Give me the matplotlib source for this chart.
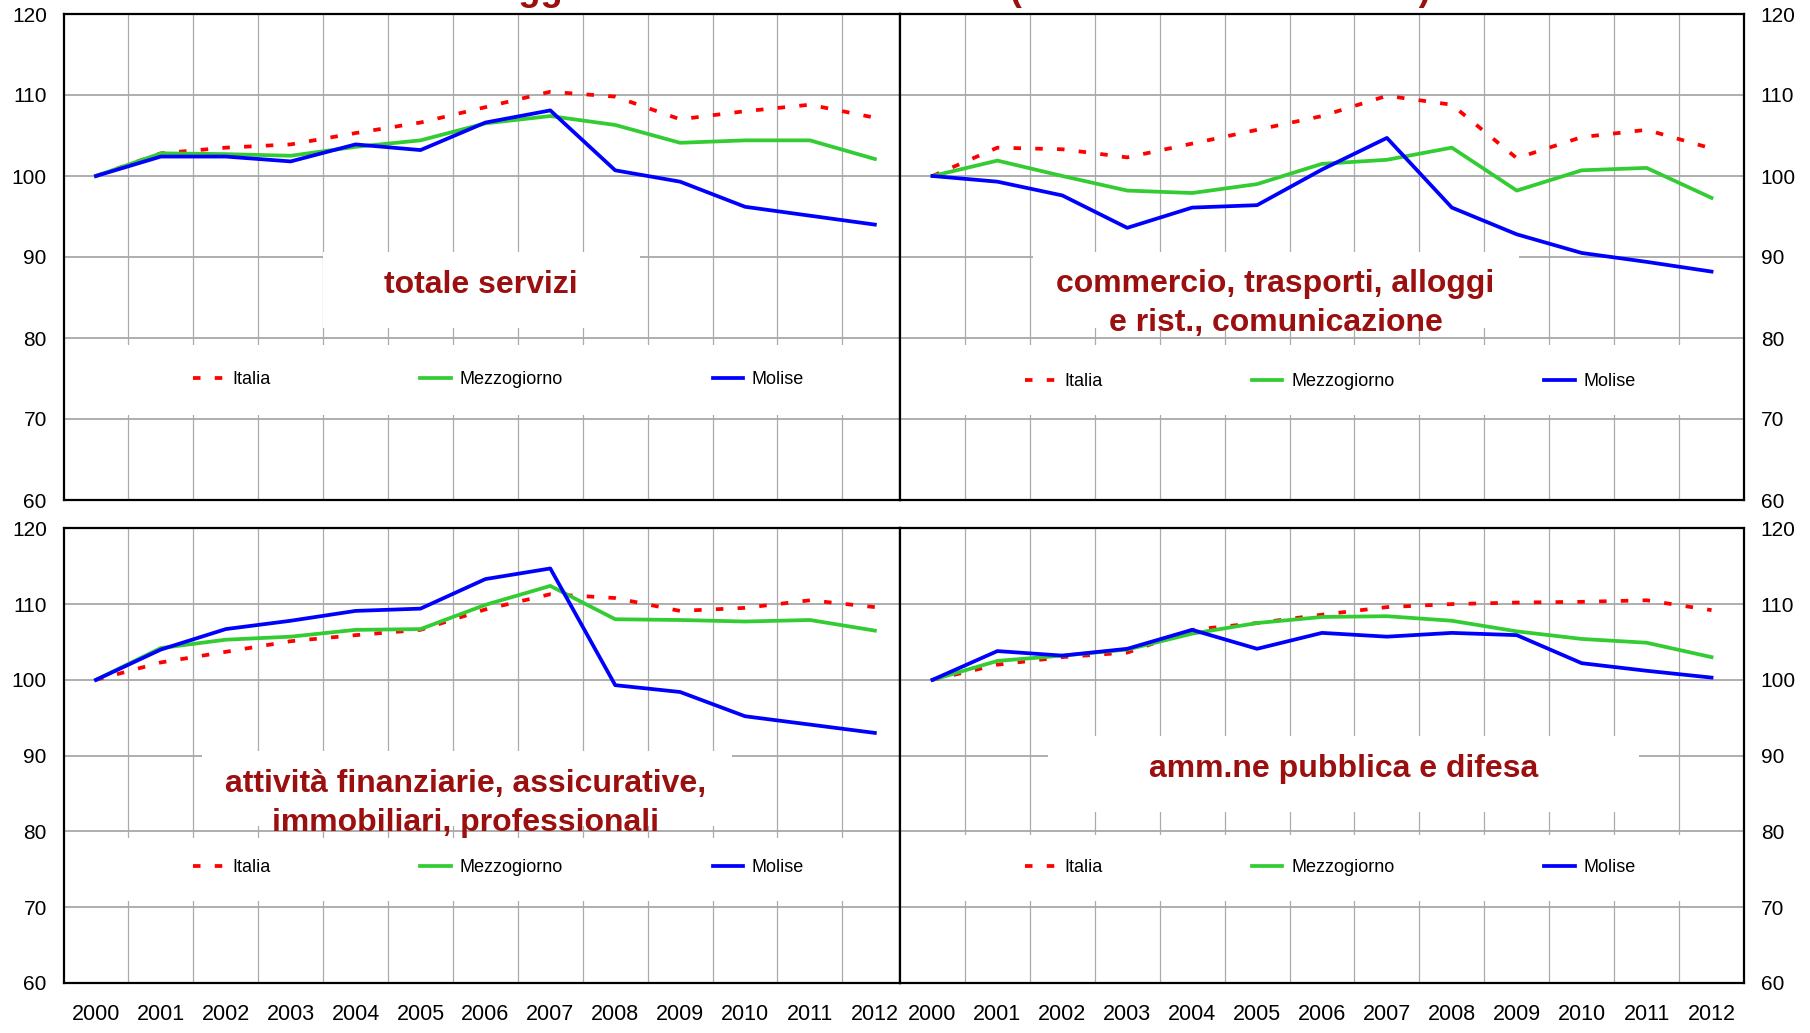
import matplotlib.pyplot as plt
from matplotlib.patches import Rectangle

plt.rcParams['font.family'] = ['Liberation Sans', 'DejaVu Sans']

years = [str(y) for y in range(2000, 2013)]
series_names = ['Italia', 'Mezzogiorno', 'Molise']

# totale servizi
tot_italia = [100, 102.8, 103.5, 103.9, 105.3, 106.6, 108.5, 110.4, 109.8, 107.0, 108.0, 108.8, 107.2]
tot_mezz = [100, 102.8, 102.7, 102.5, 103.6, 104.4, 106.5, 107.4, 106.3, 104.1, 104.4, 104.4, 102.1]
tot_molise = [100, 102.4, 102.4, 101.8, 103.9, 103.2, 106.6, 108.1, 100.7, 99.3, 96.2, 95.1, 94.0]

# commercio, trasporti, alloggi e rist., comunicazione
com_italia = [100, 103.5, 103.3, 102.3, 104.0, 105.7, 107.4, 109.9, 108.8, 102.2, 104.8, 105.7, 103.4]
com_mezz = [100, 101.9, 100.0, 98.2, 97.9, 99.0, 101.5, 102.0, 103.5, 98.2, 100.7, 101.0, 97.3]
com_molise = [100, 99.3, 97.6, 93.6, 96.1, 96.4, 100.8, 104.7, 96.1, 92.8, 90.5, 89.4, 88.2]

# attivita finanziarie, assicurative, immobiliari, professionali
fin_italia = [100, 102.3, 103.7, 105.1, 105.9, 106.6, 109.3, 111.3, 110.8, 109.1, 109.5, 110.5, 109.6]
fin_mezz = [100, 104.2, 105.3, 105.7, 106.6, 106.7, 109.9, 112.4, 108.0, 107.9, 107.7, 107.9, 106.5]
fin_molise = [100, 104.0, 106.7, 107.8, 109.1, 109.4, 113.3, 114.7, 99.3, 98.4, 95.2, 94.1, 93.0]

# amm.ne pubblica e difesa
pa_italia = [100, 102.0, 103.0, 103.6, 106.6, 107.5, 108.6, 109.6, 110.0, 110.2, 110.3, 110.5, 109.2]
pa_mezz = [100, 102.5, 103.2, 104.0, 106.1, 107.5, 108.3, 108.4, 107.8, 106.4, 105.4, 104.9, 103.0]
pa_molise = [100, 103.8, 103.2, 104.1, 106.6, 104.1, 106.2, 105.7, 106.2, 105.9, 102.2, 101.2, 100.3]

titles = ['totale servizi',
          'commercio, trasporti, alloggi\ne rist., comunicazione',
          'attività finanziarie, assicurative,\nimmobiliari, professionali',
          'amm.ne pubblica e difesa']

W, H = 1810, 1033
fig = plt.figure(figsize=(W / 100, H / 100), dpi=100)
dark_red = '#9B0F0F'

# main title: only its lower edge falls inside the picture
fig.text(0.5, 1 + 0.5 / H, 'Valore aggiunto nei servizi in Molise (numeri indici 2000=100)',
         ha='center', va='baseline', fontsize=26, fontweight='bold', color=dark_red)

# panel settings: rect, xlim right, right-side ticks, x labels, title box, title pos, legend box, legend x, legend y
panels = [
    dict(rect=[63.5 / W, 533 / H, 836 / W, 486 / H], xmax=12.38, right=False, xlab=False,
         data=(tot_italia, tot_mezz, tot_molise), tbox=(0.310, 0.354, 0.690, 0.510),
         tpos=(0.4995, 0.442), lbox=(0.175, 0.319), lx=0.155, ly=0.247),
    dict(rect=[900 / W, 533 / H, 844 / W, 486 / H], xmax=12.5, right=True, xlab=False,
         data=(com_italia, com_mezz, com_molise), tbox=(0.158, 0.354, 0.734, 0.510),
         tpos=(0.445, 0.404), lbox=(0.175, 0.319), lx=0.148, ly=0.243),
    dict(rect=[63.5 / W, 50 / H, 836 / W, 454.7 / H], xmax=12.38, right=False, xlab=True,
         data=(fin_italia, fin_mezz, fin_molise), tbox=(0.166, 0.345, 0.800, 0.510),
         tpos=(0.481, 0.395), lbox=(0.180, 0.319), lx=0.155, ly=0.253),
    dict(rect=[900 / W, 50 / H, 844 / W, 454.7 / H], xmax=12.5, right=True, xlab=True,
         data=(pa_italia, pa_mezz, pa_molise), tbox=(0.175, 0.376, 0.876, 0.544),
         tpos=(0.526, 0.471), lbox=(0.180, 0.326), lx=0.148, ly=0.253),
]

x = list(range(len(years)))
for p, title in zip(panels, titles):
    ax = fig.add_axes(p['rect'])
    it, mz, mo = p['data']
    ax.plot(x, it, color='#FF0000', lw=2.7, linestyle=(0, (2, 3.8)), label='Italia', zorder=3)
    ax.plot(x, mz, color='#33CC33', lw=2.7, label='Mezzogiorno', zorder=4)
    ax.plot(x, mo, color='#0000FF', lw=2.7, label='Molise', zorder=5)

    ax.set_xlim(-0.5, p['xmax'])
    ax.set_ylim(60, 120)
    ax.set_yticks(range(60, 121, 10))
    ax.set_xticks(x)
    ax.set_xticks([i + 0.5 for i in x[:-1]], minor=True)
    if p['xlab']:
        ax.set_xticklabels(years, fontsize=15.5)
    else:
        ax.set_xticklabels([])
    ax.tick_params(axis='x', which='both', length=0, pad=15)
    ax.tick_params(axis='y', length=0, pad=12, labelsize=15)
    if p['right']:
        ax.yaxis.tick_right()

    ax.set_axisbelow(True)
    ax.grid(axis='y', which='major', color='#A8A8A8', lw=1.3)
    ax.grid(axis='x', which='minor', color='#ABABAB', lw=0.9)
    for s in ax.spines.values():
        s.set_linewidth(1.6)
        s.set_color('black')

    # white boxes behind the label and the legend
    x0, y0, x1, y1 = p['tbox']
    ax.add_patch(Rectangle((x0, y0), x1 - x0, y1 - y0, transform=ax.transAxes,
                           facecolor='white', edgecolor='none', zorder=1))
    ly0, ly1 = p['lbox']
    ax.add_patch(Rectangle((0, ly0), 1, ly1 - ly0, transform=ax.transAxes,
                           facecolor='white', edgecolor='none', zorder=1))

    ax.text(p['tpos'][0], p['tpos'][1], title, transform=ax.transAxes, ha='center', va='center',
            fontsize=23, fontweight='bold', color=dark_red, zorder=6, linespacing=1.38)

    ax.legend(loc='center left', bbox_to_anchor=(p['lx'], p['ly']), ncol=3, frameon=False,
              fontsize=13, handlelength=1.67, handletextpad=0.5, columnspacing=8.3,
              borderpad=0, borderaxespad=0)

fig.savefig('out.png', dpi=100)
